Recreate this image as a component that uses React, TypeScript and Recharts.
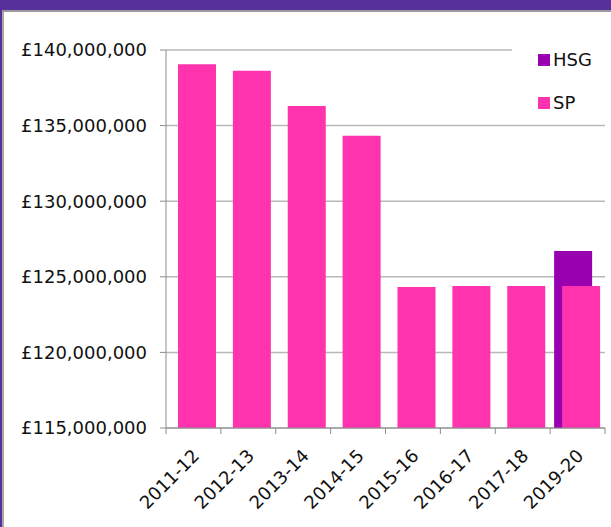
import { BarChart, Bar, XAxis, YAxis, CartesianGrid, Legend } from 'recharts';

const years = ['2011-12', '2012-13', '2013-14', '2014-15', '2015-16', '2016-17', '2017-18', '2019-20'];
const spValues = [139050000, 138630000, 136290000, 134330000, 124320000, 124390000, 124390000, 124390000];
const hsgValues = [null, null, null, null, null, null, null, 126700000];
const yTicks = [115000000, 120000000, 125000000, 130000000, 135000000, 140000000];

const data = years.map((year, i) => ({ year, HSG: hsgValues[i], SP: spValues[i] }));

const FONT = 'DejaVu Sans';
const AXIS_GREY = '#8c8c8c';
const TICK_SIZE = 6;
const TICK_MARGIN = 13;

const pounds = (v: number) => '£' + v.toLocaleString('en-GB');

function YearTick(props: any) {
  const { x, y, payload, index, visibleTicksCount } = props;
  const half = payload.offset ?? 27.4;
  const axisY = y - TICK_SIZE - TICK_MARGIN;
  const tx = payload.coordinate + 7;
  const ty = axisY + 29;
  return (
    <g>
      <line x1={payload.coordinate - half} x2={payload.coordinate - half} y1={axisY} y2={axisY + TICK_SIZE} stroke={AXIS_GREY} />
      {index === visibleTicksCount - 1 && (
        <line x1={payload.coordinate + half} x2={payload.coordinate + half} y1={axisY} y2={axisY + TICK_SIZE} stroke={AXIS_GREY} />
      )}
      <text x={tx} y={ty} transform={`rotate(-45, ${tx}, ${ty})`} textAnchor="end" fill="#111" fontSize={18} fontFamily={FONT}>
        {payload.value}
      </text>
    </g>
  );
}

function LegendBox(props: any) {
  const items = props.payload || [];
  return (
    <div style={{ position: 'relative', width: 99, height: 99, background: '#fff', fontFamily: FONT, fontSize: 18, color: '#111' }}>
      {items.map((it: any, i: number) => (
        <div key={it.value} style={{ position: 'absolute', left: 26, top: 27 + i * 43, height: 18, display: 'flex', alignItems: 'center' }}>
          <span style={{ width: 12, height: 12, background: it.color, display: 'inline-block', marginRight: 3 }} />
          <span style={{ lineHeight: '18px' }}>{it.value}</span>
        </div>
      ))}
    </div>
  );
}

export default function App() {
  return (
    <div style={{ position: 'absolute', left: 0, top: 0, width: 611, height: 527, background: '#fff', overflow: 'hidden' }}>
      <BarChart width={611} height={527} data={data} margin={{ top: 50, right: 6, bottom: 0, left: 0 }} barSize={38} barGap={-30}>
        <CartesianGrid vertical={false} stroke="#b8b8b8" strokeWidth={1.5} />
        <XAxis
          dataKey="year"
          height={99}
          interval={0}
          tickLine={false}
          tickSize={TICK_SIZE}
          tickMargin={TICK_MARGIN}
          stroke={AXIS_GREY}
          tick={<YearTick />}
        />
        <YAxis
          width={166}
          domain={[115000000, 140000000]}
          ticks={yTicks}
          tickFormatter={pounds}
          tickSize={TICK_SIZE}
          tickMargin={TICK_MARGIN}
          stroke={AXIS_GREY}
          tick={{ fill: '#111', fontSize: 18, fontFamily: FONT }}
        />
        <Legend
          layout="vertical"
          align="center"
          verticalAlign="middle"
          content={<LegendBox />}
          wrapperStyle={{ left: 512, top: 24, width: 99, height: 99 }}
        />
        <Bar dataKey="HSG" fill="#9900b0" isAnimationActive={false} />
        <Bar dataKey="SP" fill="#ff33ae" isAnimationActive={false} />
      </BarChart>
      <div style={{ position: 'absolute', left: 0, top: 0, width: 611, height: 10, background: '#57309b' }} />
      <div style={{ position: 'absolute', left: 2, top: 10, width: 609, height: 2, background: '#9a9a9a' }} />
      <div style={{ position: 'absolute', left: 0, top: 0, width: 2, height: 527, background: '#57309b' }} />
      <div style={{ position: 'absolute', left: 2, top: 12, width: 2, height: 515, background: '#a8a8a8' }} />
    </div>
  );
}
